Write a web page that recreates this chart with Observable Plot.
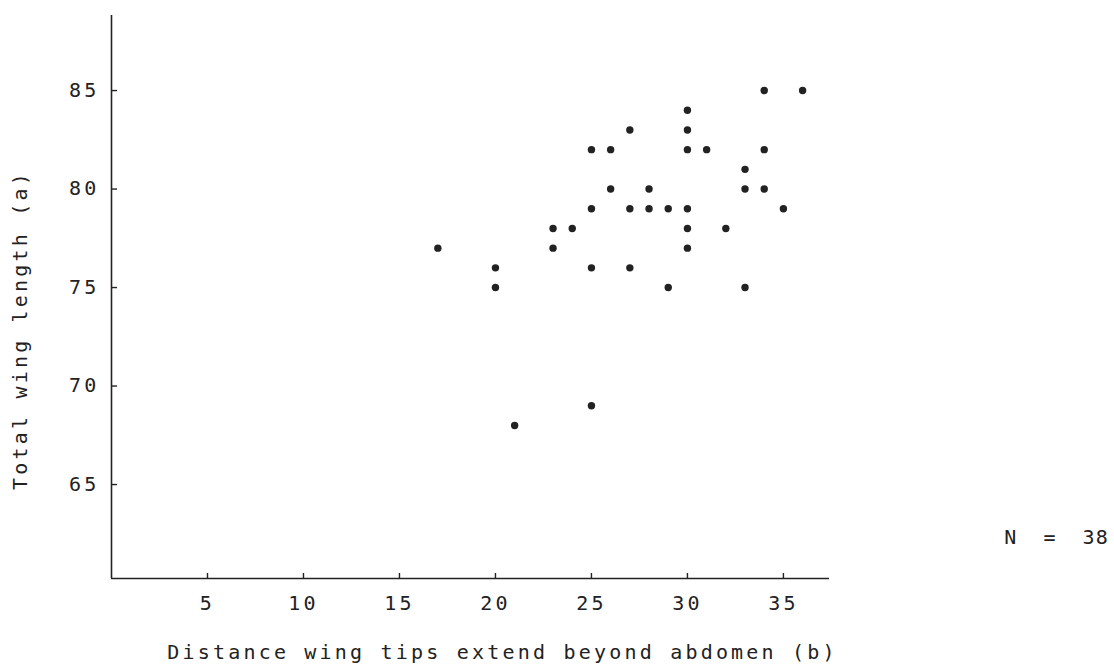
<!DOCTYPE html>
<html><head><meta charset="utf-8">
<script src="https://cdn.jsdelivr.net/npm/d3@7"></script>
<script src="https://cdn.jsdelivr.net/npm/@observablehq/plot@0.6"></script>
<style>
html,body{margin:0;padding:0;background:#fff;}
svg text{white-space:pre;}
</style></head><body><div id="chart"></div>
<script>
const distanceB = [34,36,30,27,30,25,26,30,31,34,33,26,28,33,34,25,27,28,29,30,35,23,24,30,32,17,23,30,20,25,27,20,29,33,25,21];
const wingLengthA = [85,85,84,83,83,82,82,82,82,82,81,80,80,80,80,79,79,79,79,79,79,78,78,78,78,77,77,77,76,76,76,75,75,75,69,68];
const xTicks = [5,10,15,20,25,30,35];
const yTicks = [65,70,75,80,85];
const xLabel = "Distance wing tips extend beyond abdomen (b)";
const yLabel = "Total wing length (a)";
const note = "N  =  38";

const points = distanceB.map((b, i) => ({b, a: wingLengthA[i]}));

const W = 1114, H = 666, mL = 111, mR = 285, mT = 15, mB = 88;
const frameW = W - mL - mR, frameH = H - mT - mB;
const ink = "#222";

const chart = Plot.plot({
  width: W, height: H,
  marginLeft: mL, marginRight: mR, marginTop: mT, marginBottom: mB,
  style: {fontFamily: "'DejaVu Sans Mono', monospace", fontSize: "20px", letterSpacing: "3.2px", color: ink, background: "#fff"},
  x: {domain: [0, 37.4]},
  y: {domain: [60.23, 88.81]},
  marks: [
    Plot.ruleX([0], {stroke: ink, strokeWidth: 1.6}),
    Plot.ruleY([60.23], {stroke: ink, strokeWidth: 1.6}),
    Plot.tickX(xTicks, {x: d => d, insetTop: frameH - 5, stroke: ink, strokeWidth: 1.4}),
    Plot.tickY(yTicks, {y: d => d, insetRight: frameW - 6, stroke: ink, strokeWidth: 1.4}),
    Plot.axisX(xTicks, {tickSize: 0, tickPadding: 17, label: null, fill: ink}),
    Plot.axisY(yTicks, {tickSize: 0, tickPadding: 12, label: null, fill: ink}),
    Plot.dot(points, {x: "b", y: "a", r: 3.7, fill: ink, stroke: null}),
    Plot.text([xLabel], {frameAnchor: "bottom", dx: 32, dy: 74, text: d => d, fill: ink, textAnchor: "middle", lineAnchor: "middle"}),
    Plot.text([yLabel], {frameAnchor: "left", dx: -91, dy: 33, rotate: -90, text: d => d, fill: ink, textAnchor: "middle", lineAnchor: "middle"}),
    Plot.text([note], {frameAnchor: "right", dx: 227, dy: 241, text: d => d, fill: ink, textAnchor: "middle", lineAnchor: "middle"})
  ]
});
d3.select(chart).selectAll("text").filter(function() { return this.textContent === note; }).style("letter-spacing", "1px");
document.getElementById("chart").appendChild(chart);
</script>
</body></html>
